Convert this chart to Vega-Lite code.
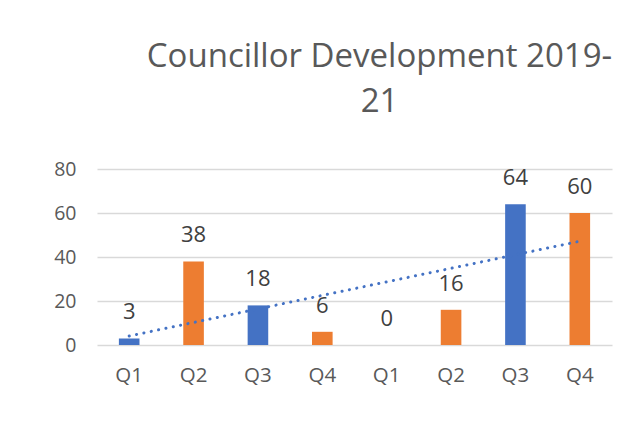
{
  "$schema": "https://vega.github.io/schema/vega-lite/v6.json",
  "width": 515,
  "height": 176,
  "autosize": "none",
  "padding": {"left": 97, "top": 169, "right": 23, "bottom": 93},
  "background": "white",
  "config": {
    "font": "Open Sans",
    "view": {"stroke": null},
    "axis": {"labelColor": "#595959", "labelFont": "Open Sans"}
  },
  "title": {
    "text": ["Councillor Development 2019-", "21"],
    "font": "Open Sans",
    "fontSize": 33,
    "fontWeight": "normal",
    "color": "#595959",
    "anchor": "middle",
    "frame": "group",
    "baseline": "alphabetic",
    "lineHeight": 45,
    "offset": 14,
    "dx": 25
  },
  "data": {
    "values": [
      {"key": "2019-20 Q1", "quarter": "Q1", "idx": 1, "group": "odd", "value": 3},
      {"key": "2019-20 Q2", "quarter": "Q2", "idx": 2, "group": "even", "value": 38},
      {"key": "2019-20 Q3", "quarter": "Q3", "idx": 3, "group": "odd", "value": 18},
      {"key": "2019-20 Q4", "quarter": "Q4", "idx": 4, "group": "even", "value": 6},
      {"key": "2020-21 Q1", "quarter": "Q1", "idx": 5, "group": "odd", "value": 0},
      {"key": "2020-21 Q2", "quarter": "Q2", "idx": 6, "group": "even", "value": 16},
      {"key": "2020-21 Q3", "quarter": "Q3", "idx": 7, "group": "odd", "value": 64},
      {"key": "2020-21 Q4", "quarter": "Q4", "idx": 8, "group": "even", "value": 60}
    ]
  },
  "layer": [
    {
      "mark": {"type": "bar"},
      "encoding": {
        "x": {
          "field": "key",
          "type": "nominal",
          "sort": null,
          "scale": {"paddingInner": 0.68, "paddingOuter": 0.34},
          "axis": {
            "title": null,
            "labelExpr": "split(datum.label, ' ')[1]",
            "labelAngle": 0,
            "labelFontSize": 20.5,
            "labelPadding": 20,
            "ticks": false,
            "tickSize": 0,
            "domain": false
          }
        },
        "y": {
          "field": "value",
          "type": "quantitative",
          "scale": {"domain": [0, 80]},
          "axis": {
            "title": null,
            "values": [0, 20, 40, 60, 80],
            "labelFontSize": 19.5,
            "labelPadding": 21,
            "ticks": false,
            "tickSize": 0,
            "domain": false,
            "grid": true,
            "gridColor": "#d9d9d9",
            "gridWidth": 1.5
          }
        },
        "color": {
          "field": "group",
          "type": "nominal",
          "scale": {"domain": ["odd", "even"], "range": ["#4472C4", "#ED7D31"]},
          "legend": null
        }
      }
    },
    {
      "mark": {"type": "text", "baseline": "alphabetic", "dy": -19, "fontSize": 22, "color": "#404040"},
      "encoding": {
        "x": {"field": "key", "type": "nominal", "sort": null, "scale": {"paddingInner": 0.68, "paddingOuter": 0.34}, "axis": null},
        "y": {"field": "value", "type": "quantitative"},
        "text": {"field": "value", "type": "quantitative"}
      }
    },
    {
      "transform": [{"regression": "value", "on": "idx", "extent": [1, 8]}],
      "mark": {"type": "line", "color": "#4472C4", "strokeWidth": 3, "strokeCap": "round", "strokeDash": [0.1, 7.4]},
      "encoding": {
        "x": {"field": "idx", "type": "quantitative", "scale": {"domain": [0.5, 8.5], "nice": false, "zero": false}, "axis": null},
        "y": {"field": "value", "type": "quantitative"}
      }
    }
  ],
  "resolve": {"scale": {"x": "independent"}}
}
